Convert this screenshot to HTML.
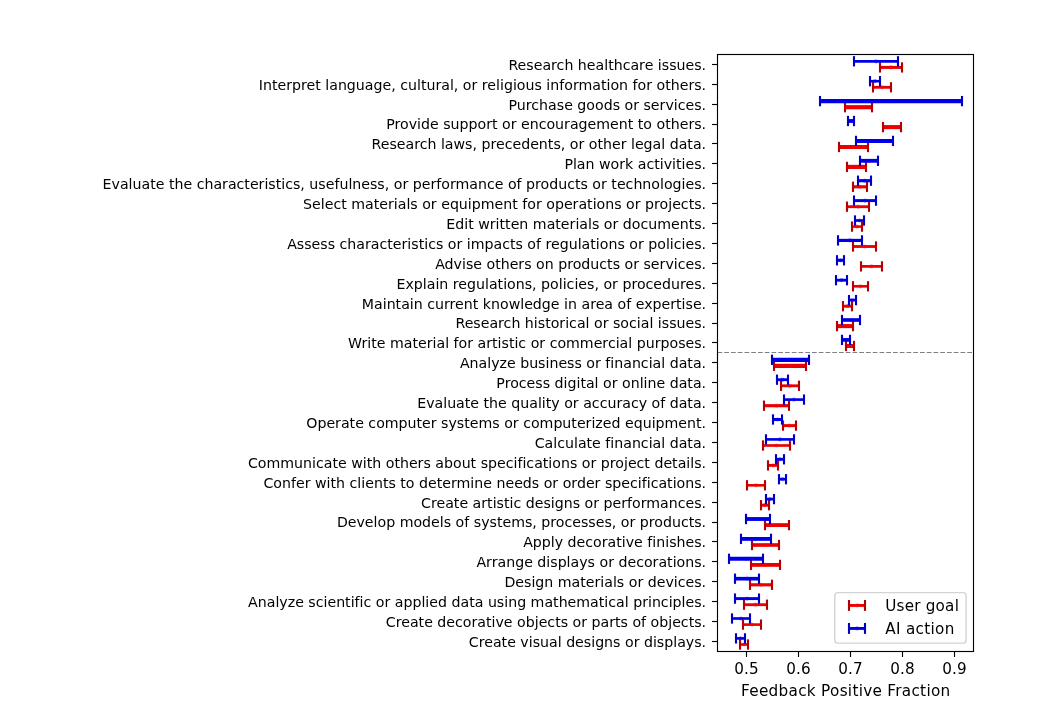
<!DOCTYPE html>
<html lang="en"><head><meta charset="utf-8"><title>Feedback Positive Fraction</title>
<style>html,body{margin:0;padding:0;background:#fff;}text{font-variant-ligatures:none;font-feature-settings:"liga" 0,"clig" 0;}body{width:1057px;height:720px;overflow:hidden;position:relative;}</style>
</head><body>
<svg width="1057" height="720" viewBox="0 0 1057 720" style="display:block;position:absolute;left:0;top:0">
<rect x="0" y="0" width="1057" height="720" fill="#ffffff"/>
<g font-family="'DejaVu Sans', 'Liberation Sans', sans-serif" font-size="14.17px" fill="#000" text-anchor="end">
<text id="yl0" x="706.1" y="70">Research healthcare issues.</text>
<text id="yl1" x="706.1" y="90">Interpret language, cultural, or religious information for others.</text>
<text id="yl2" x="706.1" y="110">Purchase goods or services.</text>
<text id="yl3" x="706.1" y="129">Provide support or encouragement to others.</text>
<text id="yl4" x="706.1" y="149">Research laws, precedents, or other legal data.</text>
<text id="yl5" x="706.1" y="169">Plan work activities.</text>
<text id="yl6" x="706.1" y="189">Evaluate the characteristics, usefulness, or performance of products or technologies.</text>
<text id="yl7" x="706.1" y="209">Select materials or equipment for operations or projects.</text>
<text id="yl8" x="706.1" y="229">Edit written materials or documents.</text>
<text id="yl9" x="706.1" y="249">Assess characteristics or impacts of regulations or policies.</text>
<text id="yl10" x="706.1" y="269">Advise others on products or services.</text>
<text id="yl11" x="706.1" y="289">Explain regulations, policies, or procedures.</text>
<text id="yl12" x="706.1" y="309">Maintain current knowledge in area of expertise.</text>
<text id="yl13" x="706.1" y="328">Research historical or social issues.</text>
<text id="yl14" x="706.1" y="348">Write material for artistic or commercial purposes.</text>
<text id="yl15" x="706.1" y="368">Analyze business or financial data.</text>
<text id="yl16" x="706.1" y="388">Process digital or online data.</text>
<text id="yl17" x="706.1" y="408">Evaluate the quality or accuracy of data.</text>
<text id="yl18" x="706.1" y="428">Operate computer systems or computerized equipment.</text>
<text id="yl19" x="706.1" y="448">Calculate financial data.</text>
<text id="yl20" x="706.1" y="468">Communicate with others about specifications or project details.</text>
<text id="yl21" x="706.1" y="488">Confer with clients to determine needs or order specifications.</text>
<text id="yl22" x="706.1" y="508">Create artistic designs or performances.</text>
<text id="yl23" x="706.1" y="527">Develop models of systems, processes, or products.</text>
<text id="yl24" x="706.1" y="547">Apply decorative finishes.</text>
<text id="yl25" x="706.1" y="567">Arrange displays or decorations.</text>
<text id="yl26" x="706.1" y="587">Design materials or devices.</text>
<text id="yl27" x="706.1" y="607">Analyze scientific or applied data using mathematical principles.</text>
<text id="yl28" x="706.1" y="627">Create decorative objects or parts of objects.</text>
<text id="yl29" x="706.1" y="647">Create visual designs or displays.</text>
</g>
<g stroke="#000" stroke-width="1.13">
<line x1="712.00" x2="717.50" y1="64.50" y2="64.50"/>
<line x1="712.00" x2="717.50" y1="84.50" y2="84.50"/>
<line x1="712.00" x2="717.50" y1="104.50" y2="104.50"/>
<line x1="712.00" x2="717.50" y1="124.50" y2="124.50"/>
<line x1="712.00" x2="717.50" y1="143.50" y2="143.50"/>
<line x1="712.00" x2="717.50" y1="163.50" y2="163.50"/>
<line x1="712.00" x2="717.50" y1="183.50" y2="183.50"/>
<line x1="712.00" x2="717.50" y1="203.50" y2="203.50"/>
<line x1="712.00" x2="717.50" y1="223.50" y2="223.50"/>
<line x1="712.00" x2="717.50" y1="243.50" y2="243.50"/>
<line x1="712.00" x2="717.50" y1="263.50" y2="263.50"/>
<line x1="712.00" x2="717.50" y1="283.50" y2="283.50"/>
<line x1="712.00" x2="717.50" y1="303.50" y2="303.50"/>
<line x1="712.00" x2="717.50" y1="323.50" y2="323.50"/>
<line x1="712.00" x2="717.50" y1="342.50" y2="342.50"/>
<line x1="712.00" x2="717.50" y1="362.50" y2="362.50"/>
<line x1="712.00" x2="717.50" y1="382.50" y2="382.50"/>
<line x1="712.00" x2="717.50" y1="402.50" y2="402.50"/>
<line x1="712.00" x2="717.50" y1="422.50" y2="422.50"/>
<line x1="712.00" x2="717.50" y1="442.50" y2="442.50"/>
<line x1="712.00" x2="717.50" y1="462.50" y2="462.50"/>
<line x1="712.00" x2="717.50" y1="482.50" y2="482.50"/>
<line x1="712.00" x2="717.50" y1="502.50" y2="502.50"/>
<line x1="712.00" x2="717.50" y1="522.50" y2="522.50"/>
<line x1="712.00" x2="717.50" y1="541.50" y2="541.50"/>
<line x1="712.00" x2="717.50" y1="561.50" y2="561.50"/>
<line x1="712.00" x2="717.50" y1="581.50" y2="581.50"/>
<line x1="712.00" x2="717.50" y1="601.50" y2="601.50"/>
<line x1="712.00" x2="717.50" y1="621.50" y2="621.50"/>
<line x1="712.00" x2="717.50" y1="641.50" y2="641.50"/>
<line x1="746.50" x2="746.50" y1="651.50" y2="657.00"/>
<line x1="798.50" x2="798.50" y1="651.50" y2="657.00"/>
<line x1="850.50" x2="850.50" y1="651.50" y2="657.00"/>
<line x1="902.50" x2="902.50" y1="651.50" y2="657.00"/>
<line x1="954.50" x2="954.50" y1="651.50" y2="657.00"/>
</g>
<g font-family="'DejaVu Sans', 'Liberation Sans', sans-serif" font-size="15.2px" letter-spacing="0.2" fill="#000" text-anchor="middle">
<text x="746.60" y="674">0.5</text>
<text x="798.60" y="674">0.6</text>
<text x="850.60" y="674">0.7</text>
<text x="902.60" y="674">0.8</text>
<text x="954.60" y="674">0.9</text>
</g>
<text font-family="'DejaVu Sans', 'Liberation Sans', sans-serif" font-size="15.25px" fill="#000" text-anchor="middle" id="xl" x="845.6" y="695.6" textLength="209.2" lengthAdjust="spacing">Feedback Positive Fraction</text>
<line x1="717.50" x2="973.50" y1="352.5" y2="352.5" stroke="#808080" stroke-width="1.2" stroke-dasharray="4.72 2.03"/>
<g>
<line x1="880.00" x2="902.00" y1="67.40" y2="67.40" stroke="#ea0000" stroke-width="3.05"/><circle cx="891.00" cy="67.40" r="2.1" fill="#ff0000" fill-opacity="0.45"/><line x1="880.00" x2="880.00" y1="62.25" y2="72.55" stroke="#b40000" stroke-width="2.12"/><line x1="902.00" x2="902.00" y1="62.25" y2="72.55" stroke="#b40000" stroke-width="2.12"/>
<line x1="873.00" x2="891.00" y1="87.30" y2="87.30" stroke="#ea0000" stroke-width="2.85"/><circle cx="882.00" cy="87.30" r="2.1" fill="#ff0000" fill-opacity="0.45"/><line x1="873.00" x2="873.00" y1="82.15" y2="92.45" stroke="#b40000" stroke-width="2.12"/><line x1="891.00" x2="891.00" y1="82.15" y2="92.45" stroke="#b40000" stroke-width="2.12"/>
<line x1="845.00" x2="872.00" y1="107.20" y2="107.20" stroke="#ea0000" stroke-width="4.15"/><circle cx="858.50" cy="107.20" r="2.1" fill="#ff0000" fill-opacity="0.45"/><line x1="845.00" x2="845.00" y1="102.05" y2="112.35" stroke="#b40000" stroke-width="2.12"/><line x1="872.00" x2="872.00" y1="102.05" y2="112.35" stroke="#b40000" stroke-width="2.12"/>
<line x1="883.00" x2="901.00" y1="127.10" y2="127.10" stroke="#ea0000" stroke-width="4.05"/><circle cx="892.00" cy="127.10" r="2.1" fill="#ff0000" fill-opacity="0.45"/><line x1="883.00" x2="883.00" y1="121.95" y2="132.25" stroke="#b40000" stroke-width="2.12"/><line x1="901.00" x2="901.00" y1="121.95" y2="132.25" stroke="#b40000" stroke-width="2.12"/>
<line x1="839.00" x2="868.00" y1="147.00" y2="147.00" stroke="#ea0000" stroke-width="4.05"/><circle cx="853.50" cy="147.00" r="2.1" fill="#ff0000" fill-opacity="0.45"/><line x1="839.00" x2="839.00" y1="141.85" y2="152.15" stroke="#b40000" stroke-width="2.12"/><line x1="868.00" x2="868.00" y1="141.85" y2="152.15" stroke="#b40000" stroke-width="2.12"/>
<line x1="847.00" x2="866.00" y1="166.90" y2="166.90" stroke="#ea0000" stroke-width="4.15"/><circle cx="856.50" cy="166.90" r="2.1" fill="#ff0000" fill-opacity="0.45"/><line x1="847.00" x2="847.00" y1="161.75" y2="172.05" stroke="#b40000" stroke-width="2.12"/><line x1="866.00" x2="866.00" y1="161.75" y2="172.05" stroke="#b40000" stroke-width="2.12"/>
<line x1="853.00" x2="867.00" y1="186.80" y2="186.80" stroke="#ea0000" stroke-width="3.15"/><circle cx="860.00" cy="186.80" r="2.1" fill="#ff0000" fill-opacity="0.45"/><line x1="853.00" x2="853.00" y1="181.65" y2="191.95" stroke="#b40000" stroke-width="2.12"/><line x1="867.00" x2="867.00" y1="181.65" y2="191.95" stroke="#b40000" stroke-width="2.12"/>
<line x1="847.00" x2="869.00" y1="206.70" y2="206.70" stroke="#ea0000" stroke-width="2.85"/><circle cx="858.00" cy="206.70" r="2.1" fill="#ff0000" fill-opacity="0.45"/><line x1="847.00" x2="847.00" y1="201.55" y2="211.85" stroke="#b40000" stroke-width="2.12"/><line x1="869.00" x2="869.00" y1="201.55" y2="211.85" stroke="#b40000" stroke-width="2.12"/>
<line x1="852.00" x2="862.00" y1="226.60" y2="226.60" stroke="#ea0000" stroke-width="2.55"/><circle cx="857.00" cy="226.60" r="2.1" fill="#ff0000" fill-opacity="0.45"/><line x1="852.00" x2="852.00" y1="221.45" y2="231.75" stroke="#b40000" stroke-width="2.12"/><line x1="862.00" x2="862.00" y1="221.45" y2="231.75" stroke="#b40000" stroke-width="2.12"/>
<line x1="853.00" x2="876.00" y1="246.50" y2="246.50" stroke="#ea0000" stroke-width="2.85"/><circle cx="864.50" cy="246.50" r="2.1" fill="#ff0000" fill-opacity="0.45"/><line x1="853.00" x2="853.00" y1="241.35" y2="251.65" stroke="#b40000" stroke-width="2.12"/><line x1="876.00" x2="876.00" y1="241.35" y2="251.65" stroke="#b40000" stroke-width="2.12"/>
<line x1="861.00" x2="882.00" y1="266.40" y2="266.40" stroke="#ea0000" stroke-width="2.75"/><circle cx="871.50" cy="266.40" r="2.1" fill="#ff0000" fill-opacity="0.45"/><line x1="861.00" x2="861.00" y1="261.25" y2="271.55" stroke="#b40000" stroke-width="2.12"/><line x1="882.00" x2="882.00" y1="261.25" y2="271.55" stroke="#b40000" stroke-width="2.12"/>
<line x1="853.00" x2="868.00" y1="286.30" y2="286.30" stroke="#ea0000" stroke-width="2.65"/><circle cx="860.50" cy="286.30" r="2.1" fill="#ff0000" fill-opacity="0.45"/><line x1="853.00" x2="853.00" y1="281.15" y2="291.45" stroke="#b40000" stroke-width="2.12"/><line x1="868.00" x2="868.00" y1="281.15" y2="291.45" stroke="#b40000" stroke-width="2.12"/>
<line x1="843.00" x2="852.00" y1="306.20" y2="306.20" stroke="#ea0000" stroke-width="2.85"/><circle cx="847.50" cy="306.20" r="2.1" fill="#ff0000" fill-opacity="0.45"/><line x1="843.00" x2="843.00" y1="301.05" y2="311.35" stroke="#b40000" stroke-width="2.12"/><line x1="852.00" x2="852.00" y1="301.05" y2="311.35" stroke="#b40000" stroke-width="2.12"/>
<line x1="837.00" x2="853.00" y1="326.10" y2="326.10" stroke="#ea0000" stroke-width="4.05"/><circle cx="845.00" cy="326.10" r="2.1" fill="#ff0000" fill-opacity="0.45"/><line x1="837.00" x2="837.00" y1="320.95" y2="331.25" stroke="#b40000" stroke-width="2.12"/><line x1="853.00" x2="853.00" y1="320.95" y2="331.25" stroke="#b40000" stroke-width="2.12"/>
<line x1="846.00" x2="854.00" y1="346.00" y2="346.00" stroke="#ea0000" stroke-width="4.05"/><circle cx="850.00" cy="346.00" r="2.1" fill="#ff0000" fill-opacity="0.45"/><line x1="846.00" x2="846.00" y1="340.85" y2="351.15" stroke="#b40000" stroke-width="2.12"/><line x1="854.00" x2="854.00" y1="340.85" y2="351.15" stroke="#b40000" stroke-width="2.12"/>
<line x1="774.00" x2="806.00" y1="365.90" y2="365.90" stroke="#ea0000" stroke-width="4.25"/><circle cx="790.00" cy="365.90" r="2.1" fill="#ff0000" fill-opacity="0.45"/><line x1="774.00" x2="774.00" y1="360.75" y2="371.05" stroke="#b40000" stroke-width="2.12"/><line x1="806.00" x2="806.00" y1="360.75" y2="371.05" stroke="#b40000" stroke-width="2.12"/>
<line x1="781.00" x2="799.00" y1="385.80" y2="385.80" stroke="#ea0000" stroke-width="2.85"/><circle cx="790.00" cy="385.80" r="2.1" fill="#ff0000" fill-opacity="0.45"/><line x1="781.00" x2="781.00" y1="380.65" y2="390.95" stroke="#b40000" stroke-width="2.12"/><line x1="799.00" x2="799.00" y1="380.65" y2="390.95" stroke="#b40000" stroke-width="2.12"/>
<line x1="764.00" x2="789.00" y1="405.70" y2="405.70" stroke="#ea0000" stroke-width="3.15"/><circle cx="776.50" cy="405.70" r="2.1" fill="#ff0000" fill-opacity="0.45"/><line x1="764.00" x2="764.00" y1="400.55" y2="410.85" stroke="#b40000" stroke-width="2.12"/><line x1="789.00" x2="789.00" y1="400.55" y2="410.85" stroke="#b40000" stroke-width="2.12"/>
<line x1="783.00" x2="796.00" y1="425.60" y2="425.60" stroke="#ea0000" stroke-width="2.95"/><circle cx="789.50" cy="425.60" r="2.1" fill="#ff0000" fill-opacity="0.45"/><line x1="783.00" x2="783.00" y1="420.45" y2="430.75" stroke="#b40000" stroke-width="2.12"/><line x1="796.00" x2="796.00" y1="420.45" y2="430.75" stroke="#b40000" stroke-width="2.12"/>
<line x1="763.00" x2="790.00" y1="445.50" y2="445.50" stroke="#ea0000" stroke-width="2.65"/><circle cx="776.50" cy="445.50" r="2.1" fill="#ff0000" fill-opacity="0.45"/><line x1="763.00" x2="763.00" y1="440.35" y2="450.65" stroke="#b40000" stroke-width="2.12"/><line x1="790.00" x2="790.00" y1="440.35" y2="450.65" stroke="#b40000" stroke-width="2.12"/>
<line x1="768.00" x2="778.00" y1="465.40" y2="465.40" stroke="#ea0000" stroke-width="2.85"/><circle cx="773.00" cy="465.40" r="2.1" fill="#ff0000" fill-opacity="0.45"/><line x1="768.00" x2="768.00" y1="460.25" y2="470.55" stroke="#b40000" stroke-width="2.12"/><line x1="778.00" x2="778.00" y1="460.25" y2="470.55" stroke="#b40000" stroke-width="2.12"/>
<line x1="747.00" x2="765.00" y1="485.30" y2="485.30" stroke="#ea0000" stroke-width="2.65"/><circle cx="756.00" cy="485.30" r="2.1" fill="#ff0000" fill-opacity="0.45"/><line x1="747.00" x2="747.00" y1="480.15" y2="490.45" stroke="#b40000" stroke-width="2.12"/><line x1="765.00" x2="765.00" y1="480.15" y2="490.45" stroke="#b40000" stroke-width="2.12"/>
<line x1="761.00" x2="769.00" y1="505.20" y2="505.20" stroke="#ea0000" stroke-width="2.95"/><circle cx="765.00" cy="505.20" r="2.1" fill="#ff0000" fill-opacity="0.45"/><line x1="761.00" x2="761.00" y1="500.05" y2="510.35" stroke="#b40000" stroke-width="2.12"/><line x1="769.00" x2="769.00" y1="500.05" y2="510.35" stroke="#b40000" stroke-width="2.12"/>
<line x1="765.00" x2="789.00" y1="525.10" y2="525.10" stroke="#ea0000" stroke-width="3.85"/><circle cx="777.00" cy="525.10" r="2.1" fill="#ff0000" fill-opacity="0.45"/><line x1="765.00" x2="765.00" y1="519.95" y2="530.25" stroke="#b40000" stroke-width="2.12"/><line x1="789.00" x2="789.00" y1="519.95" y2="530.25" stroke="#b40000" stroke-width="2.12"/>
<line x1="752.00" x2="779.00" y1="545.00" y2="545.00" stroke="#ea0000" stroke-width="3.65"/><circle cx="765.50" cy="545.00" r="2.1" fill="#ff0000" fill-opacity="0.45"/><line x1="752.00" x2="752.00" y1="539.85" y2="550.15" stroke="#b40000" stroke-width="2.12"/><line x1="779.00" x2="779.00" y1="539.85" y2="550.15" stroke="#b40000" stroke-width="2.12"/>
<line x1="751.00" x2="780.00" y1="564.90" y2="564.90" stroke="#ea0000" stroke-width="3.85"/><circle cx="765.50" cy="564.90" r="2.1" fill="#ff0000" fill-opacity="0.45"/><line x1="751.00" x2="751.00" y1="559.75" y2="570.05" stroke="#b40000" stroke-width="2.12"/><line x1="780.00" x2="780.00" y1="559.75" y2="570.05" stroke="#b40000" stroke-width="2.12"/>
<line x1="750.00" x2="772.00" y1="584.80" y2="584.80" stroke="#ea0000" stroke-width="3.15"/><circle cx="761.00" cy="584.80" r="2.1" fill="#ff0000" fill-opacity="0.45"/><line x1="750.00" x2="750.00" y1="579.65" y2="589.95" stroke="#b40000" stroke-width="2.12"/><line x1="772.00" x2="772.00" y1="579.65" y2="589.95" stroke="#b40000" stroke-width="2.12"/>
<line x1="744.00" x2="767.00" y1="604.70" y2="604.70" stroke="#ea0000" stroke-width="2.85"/><circle cx="755.50" cy="604.70" r="2.1" fill="#ff0000" fill-opacity="0.45"/><line x1="744.00" x2="744.00" y1="599.55" y2="609.85" stroke="#b40000" stroke-width="2.12"/><line x1="767.00" x2="767.00" y1="599.55" y2="609.85" stroke="#b40000" stroke-width="2.12"/>
<line x1="743.00" x2="761.00" y1="624.60" y2="624.60" stroke="#ea0000" stroke-width="2.65"/><circle cx="752.00" cy="624.60" r="2.1" fill="#ff0000" fill-opacity="0.45"/><line x1="743.00" x2="743.00" y1="619.45" y2="629.75" stroke="#b40000" stroke-width="2.12"/><line x1="761.00" x2="761.00" y1="619.45" y2="629.75" stroke="#b40000" stroke-width="2.12"/>
<line x1="740.00" x2="748.00" y1="644.50" y2="644.50" stroke="#ea0000" stroke-width="2.65"/><circle cx="744.00" cy="644.50" r="2.1" fill="#ff0000" fill-opacity="0.45"/><line x1="740.00" x2="740.00" y1="639.35" y2="649.65" stroke="#b40000" stroke-width="2.12"/><line x1="748.00" x2="748.00" y1="639.35" y2="649.65" stroke="#b40000" stroke-width="2.12"/>
<line x1="854.00" x2="898.00" y1="61.30" y2="61.30" stroke="#0000e6" stroke-width="2.70"/><circle cx="876.00" cy="61.30" r="2.1" fill="#0000ff" fill-opacity="0.45"/><line x1="854.00" x2="854.00" y1="56.15" y2="66.45" stroke="#0000c4" stroke-width="2.12"/><line x1="898.00" x2="898.00" y1="56.15" y2="66.45" stroke="#0000c4" stroke-width="2.12"/>
<line x1="870.00" x2="880.00" y1="81.20" y2="81.20" stroke="#0000e6" stroke-width="2.55"/><circle cx="875.00" cy="81.20" r="2.1" fill="#0000ff" fill-opacity="0.45"/><line x1="870.00" x2="870.00" y1="76.05" y2="86.35" stroke="#0000c4" stroke-width="2.12"/><line x1="880.00" x2="880.00" y1="76.05" y2="86.35" stroke="#0000c4" stroke-width="2.12"/>
<line x1="820.00" x2="962.00" y1="101.10" y2="101.10" stroke="#0000e6" stroke-width="4.15"/><circle cx="891.00" cy="101.10" r="2.1" fill="#0000ff" fill-opacity="0.45"/><line x1="820.00" x2="820.00" y1="95.95" y2="106.25" stroke="#0000c4" stroke-width="2.12"/><line x1="962.00" x2="962.00" y1="95.95" y2="106.25" stroke="#0000c4" stroke-width="2.12"/>
<line x1="848.00" x2="854.00" y1="121.00" y2="121.00" stroke="#0000e6" stroke-width="3.85"/><circle cx="851.00" cy="121.00" r="2.1" fill="#0000ff" fill-opacity="0.45"/><line x1="848.00" x2="848.00" y1="115.85" y2="126.15" stroke="#0000c4" stroke-width="2.12"/><line x1="854.00" x2="854.00" y1="115.85" y2="126.15" stroke="#0000c4" stroke-width="2.12"/>
<line x1="856.00" x2="893.00" y1="140.90" y2="140.90" stroke="#0000e6" stroke-width="3.95"/><circle cx="874.50" cy="140.90" r="2.1" fill="#0000ff" fill-opacity="0.45"/><line x1="856.00" x2="856.00" y1="135.75" y2="146.05" stroke="#0000c4" stroke-width="2.12"/><line x1="893.00" x2="893.00" y1="135.75" y2="146.05" stroke="#0000c4" stroke-width="2.12"/>
<line x1="860.00" x2="878.00" y1="160.80" y2="160.80" stroke="#0000e6" stroke-width="3.85"/><circle cx="869.00" cy="160.80" r="2.1" fill="#0000ff" fill-opacity="0.45"/><line x1="860.00" x2="860.00" y1="155.65" y2="165.95" stroke="#0000c4" stroke-width="2.12"/><line x1="878.00" x2="878.00" y1="155.65" y2="165.95" stroke="#0000c4" stroke-width="2.12"/>
<line x1="858.00" x2="871.00" y1="180.70" y2="180.70" stroke="#0000e6" stroke-width="3.15"/><circle cx="864.50" cy="180.70" r="2.1" fill="#0000ff" fill-opacity="0.45"/><line x1="858.00" x2="858.00" y1="175.55" y2="185.85" stroke="#0000c4" stroke-width="2.12"/><line x1="871.00" x2="871.00" y1="175.55" y2="185.85" stroke="#0000c4" stroke-width="2.12"/>
<line x1="854.00" x2="876.00" y1="200.60" y2="200.60" stroke="#0000e6" stroke-width="2.95"/><circle cx="865.00" cy="200.60" r="2.1" fill="#0000ff" fill-opacity="0.45"/><line x1="854.00" x2="854.00" y1="195.45" y2="205.75" stroke="#0000c4" stroke-width="2.12"/><line x1="876.00" x2="876.00" y1="195.45" y2="205.75" stroke="#0000c4" stroke-width="2.12"/>
<line x1="855.00" x2="864.00" y1="220.50" y2="220.50" stroke="#0000e6" stroke-width="2.65"/><circle cx="859.50" cy="220.50" r="2.1" fill="#0000ff" fill-opacity="0.45"/><line x1="855.00" x2="855.00" y1="215.35" y2="225.65" stroke="#0000c4" stroke-width="2.12"/><line x1="864.00" x2="864.00" y1="215.35" y2="225.65" stroke="#0000c4" stroke-width="2.12"/>
<line x1="838.00" x2="862.00" y1="240.40" y2="240.40" stroke="#0000e6" stroke-width="3.15"/><circle cx="850.00" cy="240.40" r="2.1" fill="#0000ff" fill-opacity="0.45"/><line x1="838.00" x2="838.00" y1="235.25" y2="245.55" stroke="#0000c4" stroke-width="2.12"/><line x1="862.00" x2="862.00" y1="235.25" y2="245.55" stroke="#0000c4" stroke-width="2.12"/>
<line x1="837.00" x2="844.00" y1="260.30" y2="260.30" stroke="#0000e6" stroke-width="3.05"/><circle cx="840.50" cy="260.30" r="2.1" fill="#0000ff" fill-opacity="0.45"/><line x1="837.00" x2="837.00" y1="255.15" y2="265.45" stroke="#0000c4" stroke-width="2.12"/><line x1="844.00" x2="844.00" y1="255.15" y2="265.45" stroke="#0000c4" stroke-width="2.12"/>
<line x1="836.00" x2="847.00" y1="280.20" y2="280.20" stroke="#0000e6" stroke-width="2.85"/><circle cx="841.50" cy="280.20" r="2.1" fill="#0000ff" fill-opacity="0.45"/><line x1="836.00" x2="836.00" y1="275.05" y2="285.35" stroke="#0000c4" stroke-width="2.12"/><line x1="847.00" x2="847.00" y1="275.05" y2="285.35" stroke="#0000c4" stroke-width="2.12"/>
<line x1="849.00" x2="856.00" y1="300.10" y2="300.10" stroke="#0000e6" stroke-width="2.65"/><circle cx="852.50" cy="300.10" r="2.1" fill="#0000ff" fill-opacity="0.45"/><line x1="849.00" x2="849.00" y1="294.95" y2="305.25" stroke="#0000c4" stroke-width="2.12"/><line x1="856.00" x2="856.00" y1="294.95" y2="305.25" stroke="#0000c4" stroke-width="2.12"/>
<line x1="842.00" x2="860.00" y1="320.00" y2="320.00" stroke="#0000e6" stroke-width="3.65"/><circle cx="851.00" cy="320.00" r="2.1" fill="#0000ff" fill-opacity="0.45"/><line x1="842.00" x2="842.00" y1="314.85" y2="325.15" stroke="#0000c4" stroke-width="2.12"/><line x1="860.00" x2="860.00" y1="314.85" y2="325.15" stroke="#0000c4" stroke-width="2.12"/>
<line x1="842.00" x2="850.00" y1="339.90" y2="339.90" stroke="#0000e6" stroke-width="3.65"/><circle cx="846.00" cy="339.90" r="2.1" fill="#0000ff" fill-opacity="0.45"/><line x1="842.00" x2="842.00" y1="334.75" y2="345.05" stroke="#0000c4" stroke-width="2.12"/><line x1="850.00" x2="850.00" y1="334.75" y2="345.05" stroke="#0000c4" stroke-width="2.12"/>
<line x1="772.00" x2="809.00" y1="359.80" y2="359.80" stroke="#0000e6" stroke-width="4.25"/><circle cx="790.50" cy="359.80" r="2.1" fill="#0000ff" fill-opacity="0.45"/><line x1="772.00" x2="772.00" y1="354.65" y2="364.95" stroke="#0000c4" stroke-width="2.12"/><line x1="809.00" x2="809.00" y1="354.65" y2="364.95" stroke="#0000c4" stroke-width="2.12"/>
<line x1="777.00" x2="788.00" y1="379.70" y2="379.70" stroke="#0000e6" stroke-width="2.85"/><circle cx="782.50" cy="379.70" r="2.1" fill="#0000ff" fill-opacity="0.45"/><line x1="777.00" x2="777.00" y1="374.55" y2="384.85" stroke="#0000c4" stroke-width="2.12"/><line x1="788.00" x2="788.00" y1="374.55" y2="384.85" stroke="#0000c4" stroke-width="2.12"/>
<line x1="784.00" x2="804.00" y1="399.60" y2="399.60" stroke="#0000e6" stroke-width="2.65"/><circle cx="794.00" cy="399.60" r="2.1" fill="#0000ff" fill-opacity="0.45"/><line x1="784.00" x2="784.00" y1="394.45" y2="404.75" stroke="#0000c4" stroke-width="2.12"/><line x1="804.00" x2="804.00" y1="394.45" y2="404.75" stroke="#0000c4" stroke-width="2.12"/>
<line x1="773.00" x2="782.00" y1="419.50" y2="419.50" stroke="#0000e6" stroke-width="2.95"/><circle cx="777.50" cy="419.50" r="2.1" fill="#0000ff" fill-opacity="0.45"/><line x1="773.00" x2="773.00" y1="414.35" y2="424.65" stroke="#0000c4" stroke-width="2.12"/><line x1="782.00" x2="782.00" y1="414.35" y2="424.65" stroke="#0000c4" stroke-width="2.12"/>
<line x1="766.00" x2="794.00" y1="439.40" y2="439.40" stroke="#0000e6" stroke-width="2.65"/><circle cx="780.00" cy="439.40" r="2.1" fill="#0000ff" fill-opacity="0.45"/><line x1="766.00" x2="766.00" y1="434.25" y2="444.55" stroke="#0000c4" stroke-width="2.12"/><line x1="794.00" x2="794.00" y1="434.25" y2="444.55" stroke="#0000c4" stroke-width="2.12"/>
<line x1="776.00" x2="784.00" y1="459.30" y2="459.30" stroke="#0000e6" stroke-width="2.85"/><circle cx="780.00" cy="459.30" r="2.1" fill="#0000ff" fill-opacity="0.45"/><line x1="776.00" x2="776.00" y1="454.15" y2="464.45" stroke="#0000c4" stroke-width="2.12"/><line x1="784.00" x2="784.00" y1="454.15" y2="464.45" stroke="#0000c4" stroke-width="2.12"/>
<line x1="779.00" x2="786.00" y1="479.20" y2="479.20" stroke="#0000e6" stroke-width="2.65"/><circle cx="782.50" cy="479.20" r="2.1" fill="#0000ff" fill-opacity="0.45"/><line x1="779.00" x2="779.00" y1="474.05" y2="484.35" stroke="#0000c4" stroke-width="2.12"/><line x1="786.00" x2="786.00" y1="474.05" y2="484.35" stroke="#0000c4" stroke-width="2.12"/>
<line x1="766.00" x2="774.00" y1="499.10" y2="499.10" stroke="#0000e6" stroke-width="2.65"/><circle cx="770.00" cy="499.10" r="2.1" fill="#0000ff" fill-opacity="0.45"/><line x1="766.00" x2="766.00" y1="493.95" y2="504.25" stroke="#0000c4" stroke-width="2.12"/><line x1="774.00" x2="774.00" y1="493.95" y2="504.25" stroke="#0000c4" stroke-width="2.12"/>
<line x1="746.00" x2="770.00" y1="519.00" y2="519.00" stroke="#0000e6" stroke-width="3.85"/><circle cx="758.00" cy="519.00" r="2.1" fill="#0000ff" fill-opacity="0.45"/><line x1="746.00" x2="746.00" y1="513.85" y2="524.15" stroke="#0000c4" stroke-width="2.12"/><line x1="770.00" x2="770.00" y1="513.85" y2="524.15" stroke="#0000c4" stroke-width="2.12"/>
<line x1="741.00" x2="771.00" y1="538.90" y2="538.90" stroke="#0000e6" stroke-width="3.85"/><circle cx="756.00" cy="538.90" r="2.1" fill="#0000ff" fill-opacity="0.45"/><line x1="741.00" x2="741.00" y1="533.75" y2="544.05" stroke="#0000c4" stroke-width="2.12"/><line x1="771.00" x2="771.00" y1="533.75" y2="544.05" stroke="#0000c4" stroke-width="2.12"/>
<line x1="729.00" x2="763.00" y1="558.80" y2="558.80" stroke="#0000e6" stroke-width="3.95"/><circle cx="746.00" cy="558.80" r="2.1" fill="#0000ff" fill-opacity="0.45"/><line x1="729.00" x2="729.00" y1="553.65" y2="563.95" stroke="#0000c4" stroke-width="2.12"/><line x1="763.00" x2="763.00" y1="553.65" y2="563.95" stroke="#0000c4" stroke-width="2.12"/>
<line x1="735.00" x2="759.00" y1="578.70" y2="578.70" stroke="#0000e6" stroke-width="3.65"/><circle cx="747.00" cy="578.70" r="2.1" fill="#0000ff" fill-opacity="0.45"/><line x1="735.00" x2="735.00" y1="573.55" y2="583.85" stroke="#0000c4" stroke-width="2.12"/><line x1="759.00" x2="759.00" y1="573.55" y2="583.85" stroke="#0000c4" stroke-width="2.12"/>
<line x1="735.00" x2="759.00" y1="598.60" y2="598.60" stroke="#0000e6" stroke-width="2.95"/><circle cx="747.00" cy="598.60" r="2.1" fill="#0000ff" fill-opacity="0.45"/><line x1="735.00" x2="735.00" y1="593.45" y2="603.75" stroke="#0000c4" stroke-width="2.12"/><line x1="759.00" x2="759.00" y1="593.45" y2="603.75" stroke="#0000c4" stroke-width="2.12"/>
<line x1="732.00" x2="750.00" y1="618.50" y2="618.50" stroke="#0000e6" stroke-width="2.65"/><circle cx="741.00" cy="618.50" r="2.1" fill="#0000ff" fill-opacity="0.45"/><line x1="732.00" x2="732.00" y1="613.35" y2="623.65" stroke="#0000c4" stroke-width="2.12"/><line x1="750.00" x2="750.00" y1="613.35" y2="623.65" stroke="#0000c4" stroke-width="2.12"/>
<line x1="736.00" x2="745.00" y1="638.40" y2="638.40" stroke="#0000e6" stroke-width="2.65"/><circle cx="740.50" cy="638.40" r="2.1" fill="#0000ff" fill-opacity="0.45"/><line x1="736.00" x2="736.00" y1="633.25" y2="643.55" stroke="#0000c4" stroke-width="2.12"/><line x1="745.00" x2="745.00" y1="633.25" y2="643.55" stroke="#0000c4" stroke-width="2.12"/>
</g>
<rect x="717.50" y="54.50" width="256.00" height="597.00" fill="none" stroke="#000" stroke-width="1.13"/>
<rect x="834.8" y="592.6" width="131.3" height="50.5" rx="2.8" ry="2.8" fill="#ffffff" fill-opacity="0.8" stroke="#d4d4d4" stroke-width="1.42"/>
<line x1="849.00" x2="865.00" y1="605.45" y2="605.45" stroke="#ea0000" stroke-width="2.90"/><circle cx="857.00" cy="605.45" r="2.1" fill="#ff0000" fill-opacity="0.45"/><line x1="849.00" x2="849.00" y1="600.00" y2="610.90" stroke="#b40000" stroke-width="2.12"/><line x1="865.00" x2="865.00" y1="600.00" y2="610.90" stroke="#b40000" stroke-width="2.12"/>
<line x1="849.00" x2="865.00" y1="628.45" y2="628.45" stroke="#0000e6" stroke-width="2.90"/><circle cx="857.00" cy="628.45" r="2.1" fill="#0000ff" fill-opacity="0.45"/><line x1="849.00" x2="849.00" y1="623.00" y2="633.90" stroke="#0000c4" stroke-width="2.12"/><line x1="865.00" x2="865.00" y1="623.00" y2="633.90" stroke="#0000c4" stroke-width="2.12"/>
<g font-family="'DejaVu Sans', 'Liberation Sans', sans-serif" font-size="15.2px" fill="#000">
<text x="885.2" y="611.3" letter-spacing="0.22">User goal</text>
<text x="885.2" y="634.3" letter-spacing="0.34">AI action</text>
</g>
</svg>
</body></html>
